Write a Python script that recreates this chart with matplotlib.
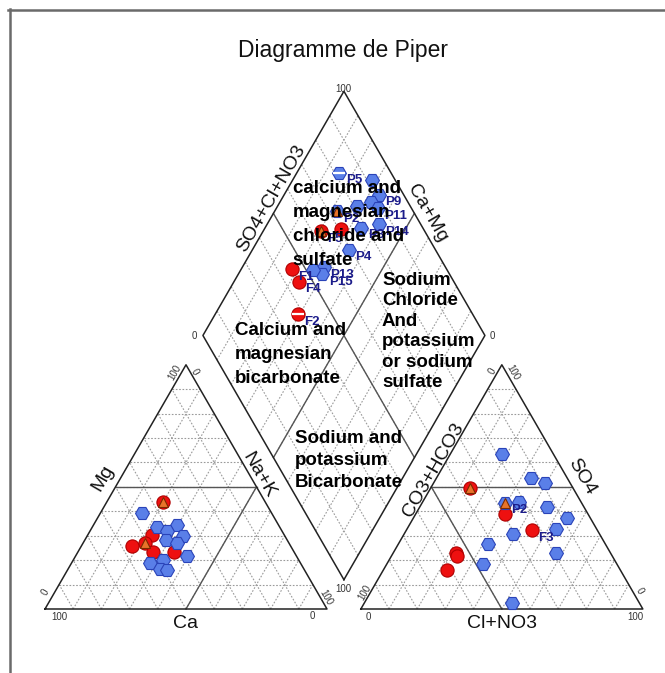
import numpy as np
import matplotlib.pyplot as plt
from matplotlib.lines import Line2D

plt.rcParams['font.family'] = ['Liberation Sans', 'DejaVu Sans']

# cation triangle, % of meq (Ca, Mg)
cat_blue_ca = [46.1, 43.6, 36.2, 40.6, 36.2, 42.9, 39.7, 38.7, 53.5, 48.1, 51.0, 48.9]
cat_blue_mg = [39.2, 33.6, 34.2, 32.1, 29.9, 28.4, 26.9, 21.8, 18.7, 20.1, 16.4, 15.8]
cat_red_ca = [36.2, 47.0, 50.9, 56.3, 49.9, 42.6]
cat_red_mg = [43.8, 30.4, 27.2, 26.0, 23.3, 23.3]
cat_tri_ca = [36.2, 50.9]
cat_tri_mg = [43.8, 27.2]

# anion triangle, % of meq (Cl+NO3, SO4)
an_blue_cl = [18.5, 33.3, 39.6, 29.3, 34.4, 45.1, 54.4, 52.8, 38.8, 31.7, 57.7, 34.0, 52.5]
an_blue_so4 = [63.3, 53.8, 51.5, 43.5, 43.7, 41.6, 37.1, 32.6, 30.6, 26.6, 23.1, 18.3, 2.3]
an_red_cl = [14.0, 31.7, 44.4, 22.3, 23.3, 22.5]
an_red_so4 = [49.4, 38.8, 32.4, 23.1, 21.7, 16.0]
an_tri_cl = [14.0, 29.3]
an_tri_so4 = [49.4, 43.5]
an_tri_names = ["", "P2"]
an_red_names = ["", "", "F3", "", "", ""]

# diamond, % (Ca+Mg, SO4+Cl+NO3)
dia_blue_camg = [84.9, 71.7, 66.3, 67.7, 71.9, 63.9, 60.3, 65.9, 65.7, 71.0, 70.1, 77.8, 74.4]
dia_blue_so4cl = [81.7, 91.9, 91.3, 86.9, 81.1, 88.1, 85.3, 78.3, 69.5, 57.0, 54.9, 73.2, 52.4]
dia_blue_names = ["P5", "", "P9", "", "", "P11", "P14", "P3", "P4", "P13", "P15", "", ""]
dia_red_camg = [81.9, 76.9, 70.5, 79.6, 73.0]
dia_red_so4cl = [45.3, 45.1, 38.1, 63.2, 70.8]
dia_red_names = ["F1", "F4", "F2", "F5", ""]
dia_tri_camg = [77.9, 79.6]
dia_tri_so4cl = [72.9, 63.2]
dia_tri_names = ["P2", ""]

S = 100.0
G = 12.0
H = np.sqrt(3) / 2


def cation_xy(ca, mg):
    ca = np.asarray(ca, float)
    mg = np.asarray(mg, float)
    return S - ca - mg / 2, mg * H


def anion_xy(cl, so4):
    cl = np.asarray(cl, float)
    so4 = np.asarray(so4, float)
    return S + G + cl + so4 / 2, so4 * H


def diamond_xy(camg, so4cl):
    camg = np.asarray(camg, float)
    so4cl = np.asarray(so4cl, float)
    return S + G / 2 + (so4cl - camg) / 2, G * H + (so4cl + camg) * H


fig = plt.figure(figsize=(6.65, 6.73), dpi=100)
ax = fig.add_axes([0, 0, 1, 1])
ax.set_xlim(-45 / 2.82, 620 / 2.82)
ax.set_ylim(-64 / 2.82, 609 / 2.82)
ax.axis('off')

grid_kw = dict(color='#9a9a9a', lw=0.8, ls=(0, (1.5, 1.5)), zorder=1)
solid_kw = dict(color='#555555', lw=1.0, zorder=2)
edge_kw = dict(color='#222222', lw=1.1, zorder=3)

# triangles
for x0 in (0.0, S + G):
    for t in range(10, 100, 10):
        ax.plot([x0 + t / 2, x0 + S - t / 2], [t * H, t * H], **grid_kw)
        ax.plot([x0 + t, x0 + t + (S - t) / 2], [0, (S - t) * H], **grid_kw)
        ax.plot([x0 + S - t, x0 + (S - t) / 2], [0, (S - t) * H], **grid_kw)
    ax.plot([x0, x0 + S, x0 + S / 2, x0], [0, 0, S * H, 0], **edge_kw)
    ax.plot([x0 + S / 4, x0 + 3 * S / 4], [S * H / 2, S * H / 2], **solid_kw)

ax.plot([S / 2, 3 * S / 4], [0, S * H / 2], **solid_kw)
ax.plot([S + G + S / 2, S + G + S / 4], [0, S * H / 2], **solid_kw)

# diamond
for t in range(10, 100, 10):
    x, y = diamond_xy([t, t], [0, 100])
    ax.plot(x, y, **grid_kw)
    x, y = diamond_xy([0, 100], [t, t])
    ax.plot(x, y, **grid_kw)
x, y = diamond_xy([50, 50], [0, 100])
ax.plot(x, y, **solid_kw)
x, y = diamond_xy([0, 100], [50, 50])
ax.plot(x, y, **solid_kw)
x, y = diamond_xy([0, 100, 100, 0, 0], [0, 0, 100, 100, 0])
ax.plot(x, y, **edge_kw)

# markers
blue_kw = dict(ls='none', marker='H', ms=10, mfc='#5a7fe8', mec='#2a43b8', mew=0.8, zorder=5)
red_kw = dict(ls='none', marker='o', ms=9.5, mfc='#ee1010', mec='#b00000', mew=0.8, zorder=4)
tri_kw = dict(ls='none', marker='^', ms=7, mfc='#e8742a', mec='#7a2a00', mew=0.8, zorder=6)
lab_kw = dict(textcoords='offset points', xytext=(4.5, -5.5), ha='left', va='center',
              fontsize=9.5, fontweight='bold', color='#1c1c8a', zorder=7)


def draw_set(x, y, kw, names=None):
    ax.plot(x, y, **kw)
    if names:
        for xi, yi, n in zip(x, y, names):
            if n:
                ax.annotate(n, (xi, yi), **lab_kw)


draw_set(*cation_xy(cat_red_ca, cat_red_mg), red_kw)
draw_set(*cation_xy(cat_blue_ca, cat_blue_mg), blue_kw)
draw_set(*cation_xy(cat_tri_ca, cat_tri_mg), tri_kw)

draw_set(*anion_xy(an_red_cl, an_red_so4), red_kw, an_red_names)
draw_set(*anion_xy(an_blue_cl, an_blue_so4), blue_kw)
draw_set(*anion_xy(an_tri_cl, an_tri_so4), tri_kw, an_tri_names)

draw_set(*diamond_xy(dia_red_camg, dia_red_so4cl), red_kw, dia_red_names)
draw_set(*diamond_xy(dia_blue_camg, dia_blue_so4cl), blue_kw, dia_blue_names)
draw_set(*diamond_xy(dia_tri_camg, dia_tri_so4cl), tri_kw, dia_tri_names)

# white strokes on P5 and F2 in the diamond
sx, sy = diamond_xy([dia_blue_camg[0], dia_red_camg[2]], [dia_blue_so4cl[0], dia_red_so4cl[2]])
ax.plot(sx, sy, ls='none', marker='_', ms=9, mew=1.6, color='white', zorder=6)

# tick numbers
tk = dict(fontsize=7, color='#333333', ha='center', va='center')
ax.text(5, -3.0, "100", **tk)
ax.text(94.7, -2.6, "0", **tk)
ax.text(0.2, 6.1, "0", rotation=60, **tk)
ax.text(99.5, 4.0, "100", rotation=-60, **tk)
ax.text(46.1, 83.7, "100", rotation=60, **tk)
ax.text(53.0, 84.2, "0", rotation=-60, **tk)
ax.text(114.6, -2.7, "0", **tk)
ax.text(209.2, -2.7, "100", **tk)
ax.text(113.4, 5.8, "100", rotation=60, **tk)
ax.text(211.0, 6.4, "0", rotation=-60, **tk)
ax.text(158.8, 84.2, "0", rotation=60, **tk)
ax.text(165.9, 83.7, "100", rotation=-60, **tk)
ax.text(105.8, 184.4, "100", **tk)
ax.text(105.8, 7.0, "100", **tk)
ax.text(53.0, 96.9, "0", **tk)
ax.text(158.6, 96.9, "0", **tk)

# axis names
ak = dict(fontsize=14, color='#111111', ha='center', va='center')
ax.text(50, -5.0, "Ca", **ak)
ax.text(162, -5.0, "Cl+NO3", **ak)
ax.text(20.6, 46.5, "Mg", rotation=60, **ak)
ax.text(75.9, 47.5, "Na+K", rotation=-60, **ak)
ax.text(137.6, 49.3, "CO3+HCO3", rotation=60, **ak)
ax.text(190.3, 46.9, "SO4", rotation=-60, **ak)
ax.text(80.4, 145.6, "SO4+Cl+NO3", rotation=60, **ak)
ax.text(135.4, 140.3, "Ca+Mg", rotation=-60, **ak)

ax.text(105.8, 198.2, "Diagramme de Piper", fontsize=16.5, color='#111111',
        ha='center', va='center')

# water type regions
rk = dict(fontsize=13.5, fontweight='bold', color='black', ha='left', va='top', zorder=10)
ax.text(87.9, 152.1, "calcium and\nmagnesian\nchloride and\nsulfate", linespacing=1.53, **rk)
ax.text(119.5, 119.5, "Sodium\nChloride\nAnd\npotassium\nor sodium\nsulfate", linespacing=1.26, **rk)
ax.text(67.4, 101.8, "Calcium and\nmagnesian\nbicarbonate", linespacing=1.53, **rk)
ax.text(88.7, 63.5, "Sodium and\npotassium\nBicarbonate", linespacing=1.37, **rk)

# outer frame
fig.add_artist(Line2D([8 / 665, 1], [1 - 10 / 673, 1 - 10 / 673], transform=fig.transFigure,
                      color='#6a6a6a', lw=1.8))
fig.add_artist(Line2D([10 / 665, 10 / 665], [0, 1 - 9 / 673], transform=fig.transFigure,
                      color='#6a6a6a', lw=1.8))

fig.savefig("out.png", dpi=100)
